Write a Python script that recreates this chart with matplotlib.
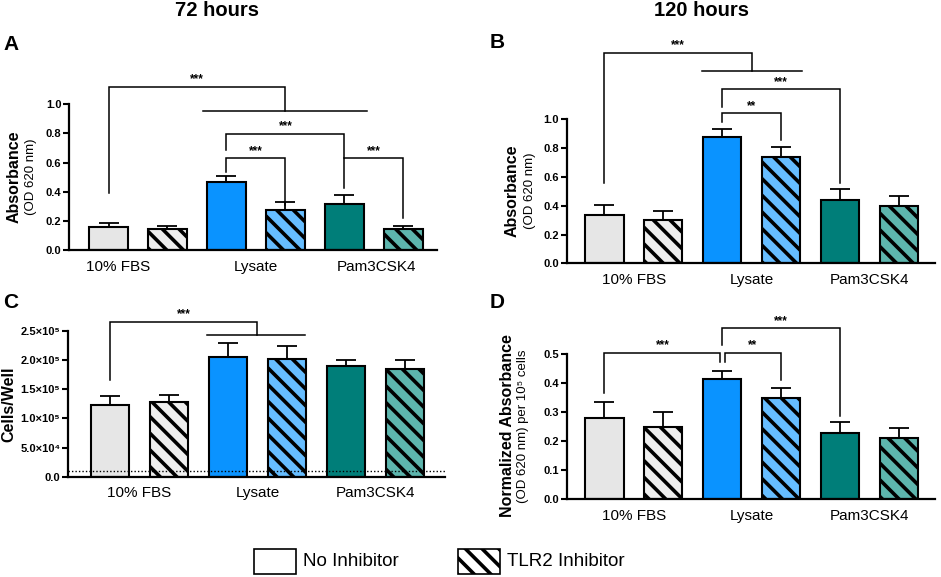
import matplotlib
matplotlib.use('Agg')
import matplotlib.pyplot as plt
from matplotlib.patches import Rectangle
import numpy as np

plt.rcParams['font.family'] = ['Liberation Sans', 'DejaVu Sans']
plt.rcParams['hatch.linewidth'] = 2.6

# ---------------- data ----------------
groups = ['10% FBS', 'Lysate', 'Pam3CSK4']
conditions = ['No Inhibitor', 'TLR2 Inhibitor']
fill_colors = ['#E6E6E6', '#EEEEEE', '#0A93FF', '#66BDFF', '#007E79', '#5DB5AD']
hatch_styles = ['', '\\\\', '', '\\\\', '', '\\\\']

a_mean = [0.160, 0.145, 0.470, 0.275, 0.315, 0.145]
a_err = [0.022, 0.022, 0.038, 0.052, 0.062, 0.022]
b_mean = [0.335, 0.300, 0.878, 0.740, 0.440, 0.400]
b_err = [0.070, 0.063, 0.058, 0.070, 0.074, 0.069]
c_mean = [1.23e5, 1.275e5, 2.05e5, 2.02e5, 1.90e5, 1.853e5]
c_err = [0.155e5, 0.135e5, 0.24e5, 0.22e5, 0.10e5, 0.147e5]
d_mean = [0.281, 0.250, 0.414, 0.350, 0.229, 0.210]
d_err = [0.055, 0.051, 0.028, 0.034, 0.038, 0.036]

ab_ticks = [0.0, 0.2, 0.4, 0.6, 0.8, 1.0]
c_ticks = [0.0, 5.0e4, 1.0e5, 1.5e5, 2.0e5, 2.5e5]
c_ticklabels = ['0.0', '5.0×10⁴', '1.0×10⁵', '1.5×10⁵', '2.0×10⁵', '2.5×10⁵']
d_ticks = [0.0, 0.1, 0.2, 0.3, 0.4, 0.5]
c_seed_line = 1.0e4

# ---------------- figure ----------------
W, H = 941, 577
fig = plt.figure(figsize=(W / 100, H / 100), dpi=100)


def add_axes(l, r, t, b):
    return fig.add_axes([l / W, 1 - b / H, (r - l) / W, (b - t) / H])


def draw_panel(ax, means, errs, xlim, ylim, yticks, yticklabels, group_pos):
    x = np.arange(len(means))
    for i in range(len(means)):
        ax.bar(x[i], means[i], width=0.65, color=fill_colors[i], edgecolor='black',
               linewidth=1.5, hatch=hatch_styles[i], zorder=2)
    ax.errorbar(x, means, yerr=[np.zeros(len(errs)), errs], fmt='none', ecolor='black',
                elinewidth=1.3, capsize=7, capthick=1.3, zorder=1)
    ax.set_xlim(*xlim)
    ax.set_ylim(*ylim)
    ax.set_yticks(yticks)
    ax.set_yticklabels(yticklabels, fontsize=8, fontweight='bold')
    ax.set_xticks(group_pos)
    ax.set_xticklabels(groups, fontsize=11)
    ax.tick_params(axis='x', length=0, pad=7)
    ax.tick_params(axis='y', length=4, width=1.5, pad=1.5)
    for s in ['top', 'right']:
        ax.spines[s].set_visible(False)
    for s in ['left', 'bottom']:
        ax.spines[s].set_linewidth(1.6)
    ax.patch.set_alpha(0)


def bracket(ax, x1, x2, y, yb1, yb2, label, tx=None):
    ax.plot([x1, x1, x2, x2], [yb1, y, y, yb2], color='black', lw=1.1,
            clip_on=False, solid_joinstyle='miter')
    if label:
        ax.annotate(label, ((x1 + x2) / 2 if tx is None else tx, y), xytext=(0, 1),
                    textcoords='offset points', ha='center', va='bottom',
                    fontsize=8.5, fontweight='bold', annotation_clip=False)


def group_line(ax, xa, xb, y):
    ax.plot([xa, xb], [y, y], color='black', lw=1.1, clip_on=False)


def ylab(x, y, main, sub=None, xs=None):
    fig.text(x / W, 1 - y / H, main, rotation=90, ha='center', va='center',
             fontsize=11.5, fontweight='bold')
    if sub:
        fig.text(xs / W, 1 - y / H, sub, rotation=90, ha='center', va='center',
                 fontsize=9.5)


fmt1 = ['%.1f' % v for v in ab_ticks]

# Panel A
axA = add_axes(69, 437, 104.3, 250)
draw_panel(axA, a_mean, a_err, (-0.67, 5.57), (0, 1.0), ab_ticks, fmt1, [0.17, 2.5, 4.55])
bracket(axA, 0, 3, 1.121, 0.389, 0.954, '***', tx=1.5)
group_line(axA, 1.61, 4.39, 0.954)
bracket(axA, 2, 4, 0.796, 0.686, 0.629, '***')
bracket(axA, 2, 3, 0.629, 0.537, 0.309, '***')
bracket(axA, 4, 5, 0.629, 0.423, 0.217, '***')
ylab(14, 177, 'Absorbance', '(OD 620 nm)', 31)

# Panel B
axB = add_axes(566.7, 935, 119.3, 263.3)
draw_panel(axB, b_mean, b_err, (-0.64, 5.61), (0, 1.0), ab_ticks, fmt1, [0.5, 2.5, 4.5])
bracket(axB, 0, 2.5, 1.463, 0.556, 1.335, '***', tx=1.25)
group_line(axB, 1.66, 3.36, 1.335)
bracket(axB, 2, 4, 1.208, 1.087, 0.556, '***')
bracket(axB, 2, 3, 1.042, 0.979, 0.856, '**')
ylab(512, 191, 'Absorbance', '(OD 620 nm)', 530)

# Panel C
axC = add_axes(68, 445, 331, 476.7)
draw_panel(axC, c_mean, c_err, (-0.71, 5.68), (0, 2.5e5), c_ticks, c_ticklabels, [0.5, 2.5, 4.5])
axC.axhline(c_seed_line, color='black', lw=1.0, ls=(0, (1, 1.5)), zorder=3)
bracket(axC, 0, 2.5, 2.66e5, 1.66e5, 2.43e5, '***', tx=1.25)
group_line(axC, 1.64, 3.31, 2.43e5)
ylab(9, 404, 'Cells/Well')

# Panel D
axD = add_axes(566.7, 935, 354, 499.3)
draw_panel(axD, d_mean, d_err, (-0.64, 5.61), (0, 0.5), d_ticks,
           ['%.1f' % v for v in d_ticks], [0.5, 2.5, 4.5])
bracket(axD, 0, 1.96, 0.504, 0.367, 0.473, '***', tx=0.99)
bracket(axD, 2, 4, 0.588, 0.531, 0.287, '***')
bracket(axD, 2.04, 3, 0.504, 0.473, 0.410, '**', tx=2.52)
ylab(507, 426, 'Normalized Absorbance', '(OD 620 nm) per 10⁵ cells', 523)

# Titles and panel letters
fig.text(217 / W, 1 - 10 / H, '72 hours', ha='center', va='center', fontsize=14.5, fontweight='bold')
fig.text(702 / W, 1 - 10 / H, '120 hours', ha='center', va='center', fontsize=14.5, fontweight='bold')
for letter, lx, ly in [('A', 3, 45), ('B', 490, 42), ('C', 3, 302), ('D', 490, 302)]:
    fig.text(lx / W, 1 - ly / H, letter, ha='left', va='center', fontsize=15, fontweight='bold')

# Legend
legend_items = [(254, 'white', '', conditions[0]),
                (458, 'white', '\\\\', conditions[1])]
for bx, fc, hs, lab in legend_items:
    fig.add_artist(Rectangle((bx / W, 1 - 574 / H), 42 / W, 25 / H, transform=fig.transFigure,
                             facecolor=fc, edgecolor='black', linewidth=1.2, hatch=hs))
    fig.text((bx + 49) / W, 1 - 562 / H, lab, ha='left', va='center', fontsize=13.5)

fig.savefig('out.png', dpi=100)
